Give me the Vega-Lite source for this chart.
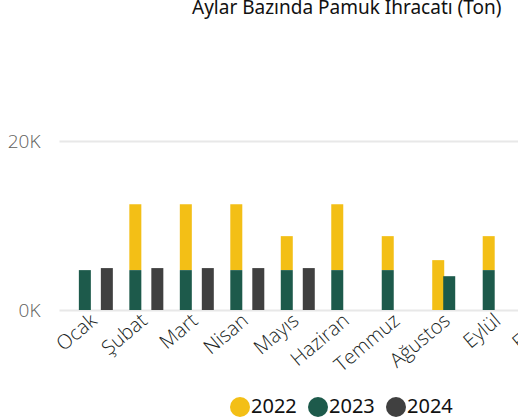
{
  "$schema": "https://vega.github.io/schema/vega-lite/v6.json",
  "autosize": "none",
  "width": 459,
  "height": 169,
  "padding": {"left": 59, "top": 141, "right": 0, "bottom": 110},
  "background": "white",
  "title": {
    "text": "Aylar Bazında Pamuk İhracatı (Ton)",
    "anchor": "start",
    "frame": "group",
    "dx": 133,
    "offset": 114,
    "font": "Noto Sans",
    "fontSize": 19,
    "fontWeight": "normal",
    "color": "#111111"
  },
  "data": {
    "values": [
      {"month": "Ocak", "year": "2023", "value": 4720, "slot": "a"},
      {"month": "Ocak", "year": "2024", "value": 4960, "slot": "b"},
      {"month": "Şubat", "year": "2022", "value": 7800, "slot": "a"},
      {"month": "Şubat", "year": "2023", "value": 4720, "slot": "a"},
      {"month": "Şubat", "year": "2024", "value": 4960, "slot": "b"},
      {"month": "Mart", "year": "2022", "value": 7800, "slot": "a"},
      {"month": "Mart", "year": "2023", "value": 4720, "slot": "a"},
      {"month": "Mart", "year": "2024", "value": 4960, "slot": "b"},
      {"month": "Nisan", "year": "2022", "value": 7800, "slot": "a"},
      {"month": "Nisan", "year": "2023", "value": 4720, "slot": "a"},
      {"month": "Nisan", "year": "2024", "value": 4960, "slot": "b"},
      {"month": "Mayıs", "year": "2022", "value": 4020, "slot": "a"},
      {"month": "Mayıs", "year": "2023", "value": 4720, "slot": "a"},
      {"month": "Mayıs", "year": "2024", "value": 4960, "slot": "b"},
      {"month": "Haziran", "year": "2022", "value": 7800, "slot": "a"},
      {"month": "Haziran", "year": "2023", "value": 4720, "slot": "a"},
      {"month": "Temmuz", "year": "2022", "value": 4020, "slot": "a"},
      {"month": "Temmuz", "year": "2023", "value": 4720, "slot": "a"},
      {"month": "Ağustos", "year": "2022", "value": 5900, "slot": "a"},
      {"month": "Ağustos", "year": "2023", "value": 4000, "slot": "c"},
      {"month": "Eylül", "year": "2022", "value": 4020, "slot": "a"},
      {"month": "Eylül", "year": "2023", "value": 4720, "slot": "a"}
    ]
  },
  "mark": {"type": "bar", "width": 12},
  "encoding": {
    "x": {
      "field": "month",
      "type": "nominal",
      "scale": {
        "domain": ["Ocak", "Şubat", "Mart", "Nisan", "Mayıs", "Haziran", "Temmuz", "Ağustos", "Eylül", "Ekim", "Kasım", "Aralık"],
        "range": [0, 629],
        "paddingInner": 0,
        "paddingOuter": 0.23
      },
      "axis": {
        "title": null,
        "labelAngle": -40,
        "labelFont": "Open Sans",
        "labelFontWeight": 300,
        "labelFontSize": 20,
        "labelColor": "#201F1E",
        "labelPadding": 0,
        "labelOffset": -8,
        "ticks": false,
        "domain": false,
        "grid": false
      }
    },
    "xOffset": {
      "field": "slot",
      "type": "nominal",
      "scale": {"domain": ["a", "c", "b"], "paddingInner": 0, "paddingOuter": 0.795}
    },
    "y": {
      "field": "value",
      "type": "quantitative",
      "stack": "zero",
      "scale": {"domain": [0, 20000]},
      "axis": {
        "title": null,
        "values": [0, 20000],
        "labelExpr": "datum.value / 1000 + 'K'",
        "labelFont": "Open Sans",
        "labelFontWeight": 300,
        "labelFontSize": 19,
        "labelColor": "#605E5C",
        "labelPadding": 19,
        "ticks": false,
        "domain": false,
        "gridColor": "#E8E8E8",
        "gridWidth": 2
      }
    },
    "color": {
      "field": "year",
      "type": "nominal",
      "scale": {"domain": ["2022", "2023", "2024"], "range": ["#F3BF16", "#1D5A4B", "#404040"]},
      "legend": {
        "title": null,
        "orient": "none",
        "direction": "horizontal",
        "legendX": 171,
        "legendY": 256,
        "symbolType": "circle",
        "symbolSize": 400,
        "symbolStrokeWidth": 0,
        "symbolOpacity": 1,
        "labelFont": "Noto Sans",
        "labelFontSize": 20,
        "labelColor": "#111111",
        "labelOffset": 1,
        "columnPadding": 11
      }
    },
    "order": {"field": "year", "sort": "descending"}
  },
  "config": {"view": {"stroke": null}}
}
